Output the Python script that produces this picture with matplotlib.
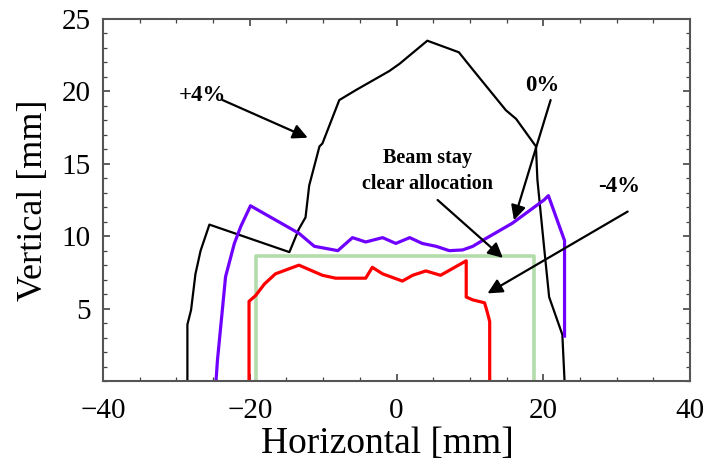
import matplotlib.pyplot as plt
from matplotlib.ticker import MultipleLocator

# +4% aperture (black)
plus4_x = [-28.5, -28.5, -28.0, -27.4, -26.7, -25.5, -14.6, -13.3, -12.4, -11.9, -10.5, -10.1,
           -7.8, -5.5, -1.0, 0.4, 4.2, 8.5, 10.4, 14.9, 16.3, 19.0, 19.2, 20.1, 20.8, 22.6, 22.9]
plus4_y = [0.0, 3.9, 4.9, 7.4, 9.0, 10.8, 8.9, 10.5, 11.3, 13.5, 16.2, 16.4,
           19.4, 20.1, 21.4, 21.9, 23.5, 22.7, 21.5, 18.7, 18.1, 16.2, 13.9, 9.3, 5.8, 3.2, 0.0]

# 0% aperture (blue)
zero_x = [-24.6, -24.4, -23.7, -23.3, -22.1, -21.2, -19.9, -13.3, -11.2, -10.1, -8.0, -6.0, -4.2,
          -1.9, -0.1, 1.8, 3.5, 5.4, 7.2, 9.0, 10.4, 11.7, 15.8, 20.1, 20.7, 21.9, 22.9, 22.9]
zero_y = [0.0, 1.45, 5.1, 7.2, 9.5, 10.7, 12.1, 10.2, 9.3, 9.2, 9.0, 9.9, 9.6,
          9.9, 9.5, 9.9, 9.5, 9.3, 9.0, 9.05, 9.3, 9.7, 10.9, 12.5, 12.8, 11.1, 9.7, 3.1]

# -4% aperture (red)
minus4_x = [-20.1, -20.1, -19.2, -18.0, -16.5, -13.3, -10.1, -8.3, -4.2, -3.3, -1.9, 0.8, 2.2,
            4.0, 6.0, 9.5, 9.5, 10.4, 12.0, 12.4, 12.7, 12.7]
minus4_y = [0.0, 5.5, 5.9, 6.7, 7.4, 8.0, 7.3, 7.1, 7.1, 7.85, 7.4, 6.9, 7.3,
            7.6, 7.3, 8.3, 5.8, 5.6, 5.4, 4.7, 4.1, 0.0]

# beam stay clear box (green)
bsc_x = [-19.2, -19.2, 18.7, 18.7]
bsc_y = [0.0, 8.6, 8.6, 0.0]

fig = plt.figure(figsize=(7.08, 4.71), dpi=100)
ax = fig.add_axes([0.1455, 0.1911, 0.8291, 0.7686])

ax.plot(bsc_x, bsc_y, color='#b3dcab', lw=2.6)
ax.plot(plus4_x, plus4_y, color='black', lw=1.6)
ax.plot(zero_x, zero_y, color='#6f00ff', lw=2.3)
ax.plot(minus4_x, minus4_y, color='#ff0000', lw=2.3)

ax.set_xlim(-40, 40)
ax.set_ylim(0, 25)
ax.set_xticks([-40, -20, 0, 20, 40])
ax.set_yticks([5, 10, 15, 20, 25])
ax.xaxis.set_minor_locator(MultipleLocator(5))
ax.yaxis.set_minor_locator(MultipleLocator(1))
ax.tick_params(which='both', direction='in', top=True, right=True, color='#444444')
ax.tick_params(which='major', length=5, width=1.2, labelsize=21)
ax.tick_params(axis='x', which='major', pad=12)
ax.tick_params(axis='y', which='major', pad=9)
ax.tick_params(which='minor', length=3, width=0.9)
for lab in ax.get_xticklabels() + ax.get_yticklabels():
    lab.set_family('Liberation Serif')
for sp in ax.spines.values():
    sp.set_color('#555555')
    sp.set_linewidth(1.5)

ax.set_xlabel('Horizontal [mm]', family='Liberation Serif', fontsize=27, labelpad=2)
ax.xaxis.label.set_x(0.485)
ax.set_ylabel('Vertical [mm]', family='Liberation Serif', fontsize=26, labelpad=8)

arrow = dict(arrowstyle='-|>', color='black', lw=1.6, mutation_scale=22, shrinkA=0, shrinkB=0)
font = dict(family='Liberation Serif', fontweight='bold', ha='center', va='center')
ax.annotate('', xy=(-12.1, 16.8), xytext=(-23.7, 19.4), arrowprops=arrow)
ax.text(-26.4, 19.75, '+4%', fontsize=16.5, **font)
ax.annotate('', xy=(16.0, 11.1), xytext=(21.0, 19.4), arrowprops=arrow)
ax.text(19.9, 20.4, '0%', fontsize=16.5, **font)
ax.annotate('', xy=(12.4, 6.05), xytext=(31.5, 11.7), arrowprops=arrow)
ax.text(30.4, 13.4, '-4%', fontsize=16.5, **font)
ax.annotate('', xy=(14.5, 8.5), xytext=(5.6, 12.5), arrowprops=arrow)
ax.text(4.2, 14.5, 'Beam stay\nclear allocation', fontsize=14.5, linespacing=1.4, **font)

plt.savefig('out.png', dpi=100)
